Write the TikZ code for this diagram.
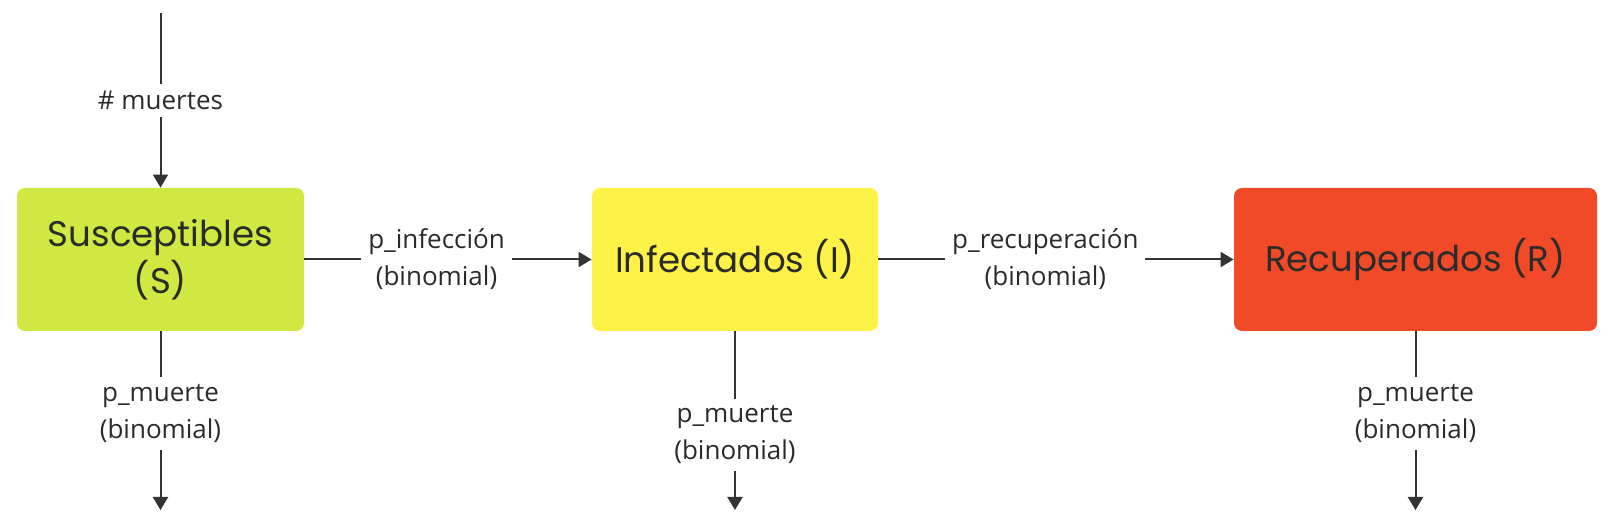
\documentclass[tikz,border=0pt]{standalone}
\usepackage{fontspec}
\setmainfont{Open Sans}
\newfontfamily\boxfont{Poppins}
\usepackage{xcolor}
\usetikzlibrary{arrows.meta,positioning}
\definecolor{suscgreen}{HTML}{D0E842}
\definecolor{infecyellow}{HTML}{FEF248}
\definecolor{recupred}{HTML}{F04A28}
\definecolor{inkgray}{HTML}{2B2B2B}
\definecolor{linegray}{HTML}{333333}

\begin{document}
\begin{tikzpicture}[
x=0.5pt,
y=-0.5pt,
every node/.style={font=\fontsize{13}{18.5}\selectfont,text=inkgray},
comp/.style={rectangle,rounded corners=4pt,draw=none,align=center,inner sep=2pt,minimum height=71.5pt,font=\boxfont\fontsize{17.8}{23.5}\selectfont},
arr/.style={-{Triangle[length=6.5pt,width=7.5pt]},line width=1pt,draw=linegray},
lbl/.style={fill=white,align=center,inner sep=3.5pt}
]
\useasboundingbox (0,0) rectangle (1624,528);
\node[comp,fill=suscgreen,minimum width=143.5pt] (susc) at (160.5,259.5) {Susceptibles\\(S)};
\node[comp,fill=infecyellow,minimum width=143pt] (infec) at (735,259.5) {Infectados (I)};
\node[comp,fill=recupred,minimum width=181.5pt] (recup) at (1415.5,259.5) {Recuperados (R)};

\coordinate (muertesin) at (160.5,13);
\coordinate (suscout) at (160.5,510);
\coordinate (infecout) at (735,510);
\coordinate (recupout) at (1415.5,510);

\draw[arr] (muertesin) -- node[lbl,pos=0.5]{\# muertes} (susc.north);
\draw[arr] (susc.east) -- node[lbl,pos=0.46]{p\_infección\\(binomial)} (infec.west);
\draw[arr] (infec.east) -- node[lbl,pos=0.47]{p\_recuperación\\(binomial)} (recup.west);
\draw[arr] (susc.south) -- node[lbl,pos=0.46]{p\_muerte\\(binomial)} (suscout);
\draw[arr] (infec.south) -- node[lbl,pos=0.58]{p\_muerte\\(binomial)} (infecout);
\draw[arr] (recup.south) -- node[lbl,pos=0.46]{p\_muerte\\(binomial)} (recupout);
\end{tikzpicture}
\end{document}
